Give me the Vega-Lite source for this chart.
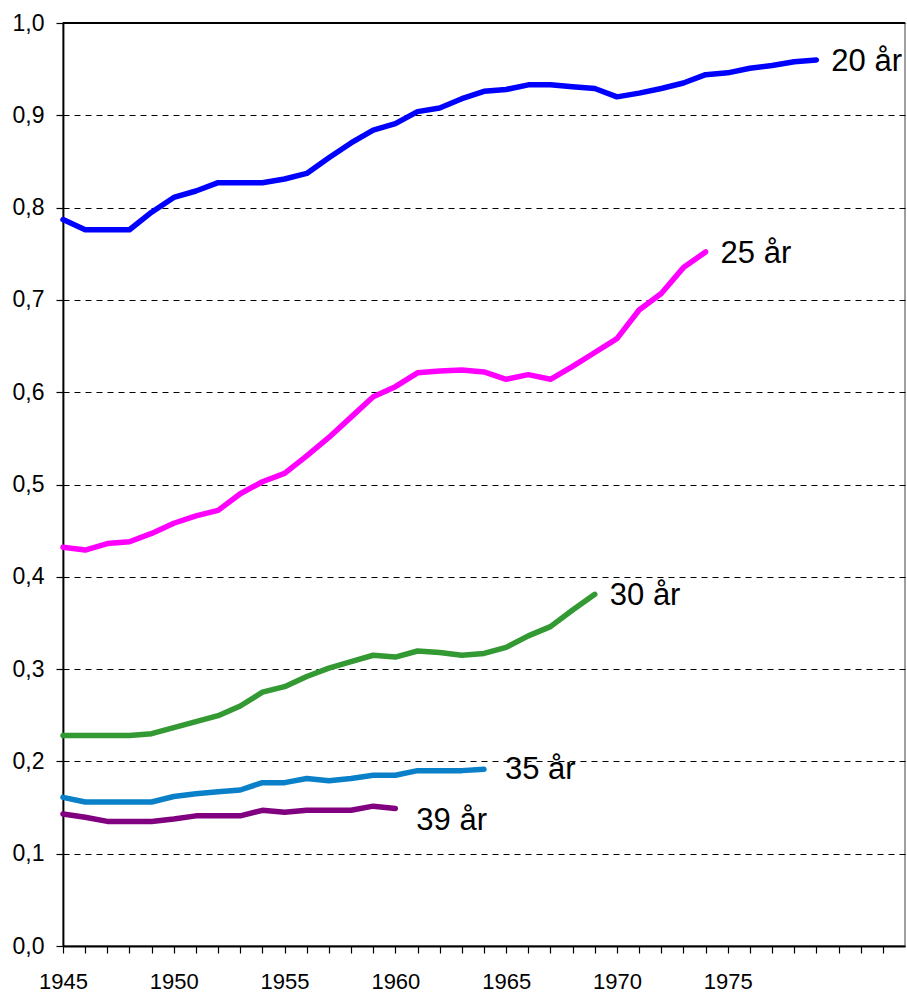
{
  "$schema": "https://vega.github.io/schema/vega-lite/v6.json",
  "width": 842,
  "height": 923,
  "autosize": {"type": "none"},
  "padding": {"left": 63, "top": 23, "right": 2, "bottom": 47},
  "background": "white",
  "config": {
    "view": {"stroke": "#808080", "strokeWidth": 1.5},
    "font": "Liberation Sans",
    "axis": {"labelFont": "Liberation Sans", "labelColor": "black", "domainColor": "black", "tickColor": "black"}
  },
  "datasets": {
    "pts": [
      {"s": "20 år", "year": 1945, "v": 0.787}, {"s": "20 år", "year": 1946, "v": 0.776}, {"s": "20 år", "year": 1947, "v": 0.776}, {"s": "20 år", "year": 1948, "v": 0.776}, {"s": "20 år", "year": 1949, "v": 0.795}, {"s": "20 år", "year": 1950, "v": 0.811}, {"s": "20 år", "year": 1951, "v": 0.818}, {"s": "20 år", "year": 1952, "v": 0.827}, {"s": "20 år", "year": 1953, "v": 0.827}, {"s": "20 år", "year": 1954, "v": 0.827}, {"s": "20 år", "year": 1955, "v": 0.831}, {"s": "20 år", "year": 1956, "v": 0.837}, {"s": "20 år", "year": 1957, "v": 0.854}, {"s": "20 år", "year": 1958, "v": 0.870}, {"s": "20 år", "year": 1959, "v": 0.884}, {"s": "20 år", "year": 1960, "v": 0.891}, {"s": "20 år", "year": 1961, "v": 0.904}, {"s": "20 år", "year": 1962, "v": 0.908}, {"s": "20 år", "year": 1963, "v": 0.918}, {"s": "20 år", "year": 1964, "v": 0.926}, {"s": "20 år", "year": 1965, "v": 0.928}, {"s": "20 år", "year": 1966, "v": 0.933}, {"s": "20 år", "year": 1967, "v": 0.933}, {"s": "20 år", "year": 1968, "v": 0.931}, {"s": "20 år", "year": 1969, "v": 0.929}, {"s": "20 år", "year": 1970, "v": 0.920}, {"s": "20 år", "year": 1971, "v": 0.924}, {"s": "20 år", "year": 1972, "v": 0.929}, {"s": "20 år", "year": 1973, "v": 0.935}, {"s": "20 år", "year": 1974, "v": 0.944}, {"s": "20 år", "year": 1975, "v": 0.946}, {"s": "20 år", "year": 1976, "v": 0.951}, {"s": "20 år", "year": 1977, "v": 0.954}, {"s": "20 år", "year": 1978, "v": 0.958}, {"s": "20 år", "year": 1979, "v": 0.960},
      {"s": "25 år", "year": 1945, "v": 0.432}, {"s": "25 år", "year": 1946, "v": 0.429}, {"s": "25 år", "year": 1947, "v": 0.436}, {"s": "25 år", "year": 1948, "v": 0.438}, {"s": "25 år", "year": 1949, "v": 0.447}, {"s": "25 år", "year": 1950, "v": 0.458}, {"s": "25 år", "year": 1951, "v": 0.466}, {"s": "25 år", "year": 1952, "v": 0.472}, {"s": "25 år", "year": 1953, "v": 0.490}, {"s": "25 år", "year": 1954, "v": 0.503}, {"s": "25 år", "year": 1955, "v": 0.512}, {"s": "25 år", "year": 1956, "v": 0.531}, {"s": "25 år", "year": 1957, "v": 0.551}, {"s": "25 år", "year": 1958, "v": 0.573}, {"s": "25 år", "year": 1959, "v": 0.595}, {"s": "25 år", "year": 1960, "v": 0.606}, {"s": "25 år", "year": 1961, "v": 0.621}, {"s": "25 år", "year": 1962, "v": 0.623}, {"s": "25 år", "year": 1963, "v": 0.624}, {"s": "25 år", "year": 1964, "v": 0.622}, {"s": "25 år", "year": 1965, "v": 0.614}, {"s": "25 år", "year": 1966, "v": 0.619}, {"s": "25 år", "year": 1967, "v": 0.614}, {"s": "25 år", "year": 1968, "v": 0.628}, {"s": "25 år", "year": 1969, "v": 0.643}, {"s": "25 år", "year": 1970, "v": 0.658}, {"s": "25 år", "year": 1971, "v": 0.689}, {"s": "25 år", "year": 1972, "v": 0.707}, {"s": "25 år", "year": 1973, "v": 0.735}, {"s": "25 år", "year": 1974, "v": 0.752},
      {"s": "30 år", "year": 1945, "v": 0.228}, {"s": "30 år", "year": 1946, "v": 0.228}, {"s": "30 år", "year": 1947, "v": 0.228}, {"s": "30 år", "year": 1948, "v": 0.228}, {"s": "30 år", "year": 1949, "v": 0.230}, {"s": "30 år", "year": 1950, "v": 0.2365}, {"s": "30 år", "year": 1951, "v": 0.243}, {"s": "30 år", "year": 1952, "v": 0.2495}, {"s": "30 år", "year": 1953, "v": 0.260}, {"s": "30 år", "year": 1954, "v": 0.275}, {"s": "30 år", "year": 1955, "v": 0.281}, {"s": "30 år", "year": 1956, "v": 0.292}, {"s": "30 år", "year": 1957, "v": 0.301}, {"s": "30 år", "year": 1958, "v": 0.308}, {"s": "30 år", "year": 1959, "v": 0.315}, {"s": "30 år", "year": 1960, "v": 0.313}, {"s": "30 år", "year": 1961, "v": 0.3196}, {"s": "30 år", "year": 1962, "v": 0.318}, {"s": "30 år", "year": 1963, "v": 0.315}, {"s": "30 år", "year": 1964, "v": 0.317}, {"s": "30 år", "year": 1965, "v": 0.3235}, {"s": "30 år", "year": 1966, "v": 0.336}, {"s": "30 år", "year": 1967, "v": 0.346}, {"s": "30 år", "year": 1968, "v": 0.364}, {"s": "30 år", "year": 1969, "v": 0.381},
      {"s": "35 år", "year": 1945, "v": 0.161}, {"s": "35 år", "year": 1946, "v": 0.156}, {"s": "35 år", "year": 1947, "v": 0.156}, {"s": "35 år", "year": 1948, "v": 0.156}, {"s": "35 år", "year": 1949, "v": 0.156}, {"s": "35 år", "year": 1950, "v": 0.162}, {"s": "35 år", "year": 1951, "v": 0.165}, {"s": "35 år", "year": 1952, "v": 0.167}, {"s": "35 år", "year": 1953, "v": 0.169}, {"s": "35 år", "year": 1954, "v": 0.177}, {"s": "35 år", "year": 1955, "v": 0.177}, {"s": "35 år", "year": 1956, "v": 0.1815}, {"s": "35 år", "year": 1957, "v": 0.179}, {"s": "35 år", "year": 1958, "v": 0.1815}, {"s": "35 år", "year": 1959, "v": 0.185}, {"s": "35 år", "year": 1960, "v": 0.185}, {"s": "35 år", "year": 1961, "v": 0.190}, {"s": "35 år", "year": 1962, "v": 0.190}, {"s": "35 år", "year": 1963, "v": 0.190}, {"s": "35 år", "year": 1964, "v": 0.1915},
      {"s": "39 år", "year": 1945, "v": 0.143}, {"s": "39 år", "year": 1946, "v": 0.1395}, {"s": "39 år", "year": 1947, "v": 0.135}, {"s": "39 år", "year": 1948, "v": 0.135}, {"s": "39 år", "year": 1949, "v": 0.135}, {"s": "39 år", "year": 1950, "v": 0.1375}, {"s": "39 år", "year": 1951, "v": 0.141}, {"s": "39 år", "year": 1952, "v": 0.141}, {"s": "39 år", "year": 1953, "v": 0.141}, {"s": "39 år", "year": 1954, "v": 0.147}, {"s": "39 år", "year": 1955, "v": 0.145}, {"s": "39 år", "year": 1956, "v": 0.147}, {"s": "39 år", "year": 1957, "v": 0.147}, {"s": "39 år", "year": 1958, "v": 0.147}, {"s": "39 år", "year": 1959, "v": 0.1515}, {"s": "39 år", "year": 1960, "v": 0.149}
    ]
  },
  "data": {"name": "pts"},
  "encoding": {
    "x": {
      "field": "year", "type": "quantitative",
      "scale": {"domain": [1945, 1983], "nice": false, "zero": false},
      "axis": {
        "title": null,
        "values": [1945,1946,1947,1948,1949,1950,1951,1952,1953,1954,1955,1956,1957,1958,1959,1960,1961,1962,1963,1964,1965,1966,1967,1968,1969,1970,1971,1972,1973,1974,1975,1976,1977,1978,1979,1980,1981,1982],
        "labelExpr": "(datum.value % 5 == 0 && datum.value <= 1975) ? datum.value : ''",
        "labelFontSize": 22,
        "labelPadding": 18,
        "tickSize": 7,
        "tickWidth": 1.2,
        "domainWidth": 1.8,
        "grid": false,
        "labelFlush": false,
        "labelOverlap": false
      }
    },
    "y": {
      "field": "v", "type": "quantitative",
      "scale": {"domain": [0, 1], "nice": false},
      "axis": {
        "title": null,
        "values": [0, 0.1, 0.2, 0.3, 0.4, 0.5, 0.6, 0.7, 0.8, 0.9, 1.0],
        "labelExpr": "replace(format(datum.value, '.1f'), '.', ',')",
        "labelFontSize": 23,
        "labelPadding": 12,
        "tickSize": 7,
        "tickWidth": 1.2,
        "domainWidth": 1.8,
        "grid": true,
        "gridColor": "black",
        "gridDash": [6, 5],
        "gridWidth": 1,
        "gridOpacity": 1,
        "labelFlush": false,
        "labelOverlap": false
      }
    },
    "color": {
      "field": "s", "type": "nominal",
      "scale": {"domain": ["20 år", "25 år", "30 år", "35 år", "39 år"], "range": ["#0000FF", "#FF00FF", "#339933", "#0A80C8", "#800080"]},
      "legend": null
    }
  },
  "layer": [
    {
      "mark": {"type": "line", "strokeWidth": 5.5, "strokeCap": "round", "strokeJoin": "round"},
      "encoding": {"order": {"field": "year", "type": "quantitative"}}
    },
    {
      "transform": [
        {"joinaggregate": [{"op": "max", "field": "year", "as": "maxy"}], "groupby": ["s"]},
        {"filter": "datum.year == datum.maxy && (datum.s == '20 år' || datum.s == '25 år' || datum.s == '30 år')"}
      ],
      "mark": {"type": "text", "align": "left", "baseline": "middle", "dx": 15, "dy": 2, "fontSize": 31, "font": "Liberation Sans", "color": "black"},
      "encoding": {"text": {"field": "s"}, "color": {"value": "black"}}
    },
    {
      "transform": [
        {"joinaggregate": [{"op": "max", "field": "year", "as": "maxy"}], "groupby": ["s"]},
        {"filter": "datum.year == datum.maxy && datum.s == '35 år'"}
      ],
      "mark": {"type": "text", "align": "left", "baseline": "middle", "dx": 21, "dy": 1, "fontSize": 31, "font": "Liberation Sans", "color": "black"},
      "encoding": {"text": {"field": "s"}, "color": {"value": "black"}}
    },
    {
      "transform": [
        {"joinaggregate": [{"op": "max", "field": "year", "as": "maxy"}], "groupby": ["s"]},
        {"filter": "datum.year == datum.maxy && datum.s == '39 år'"}
      ],
      "mark": {"type": "text", "align": "left", "baseline": "middle", "dx": 21, "dy": 13, "fontSize": 31, "font": "Liberation Sans", "color": "black"},
      "encoding": {"text": {"field": "s"}, "color": {"value": "black"}}
    },
    {
      "mark": {"type": "rule", "color": "black", "strokeWidth": 1.8},
      "encoding": {"y": {"datum": 1}, "x": {"datum": 1945}, "x2": {"datum": 1983}, "color": {"value": "black"}}
    }
  ]
}
